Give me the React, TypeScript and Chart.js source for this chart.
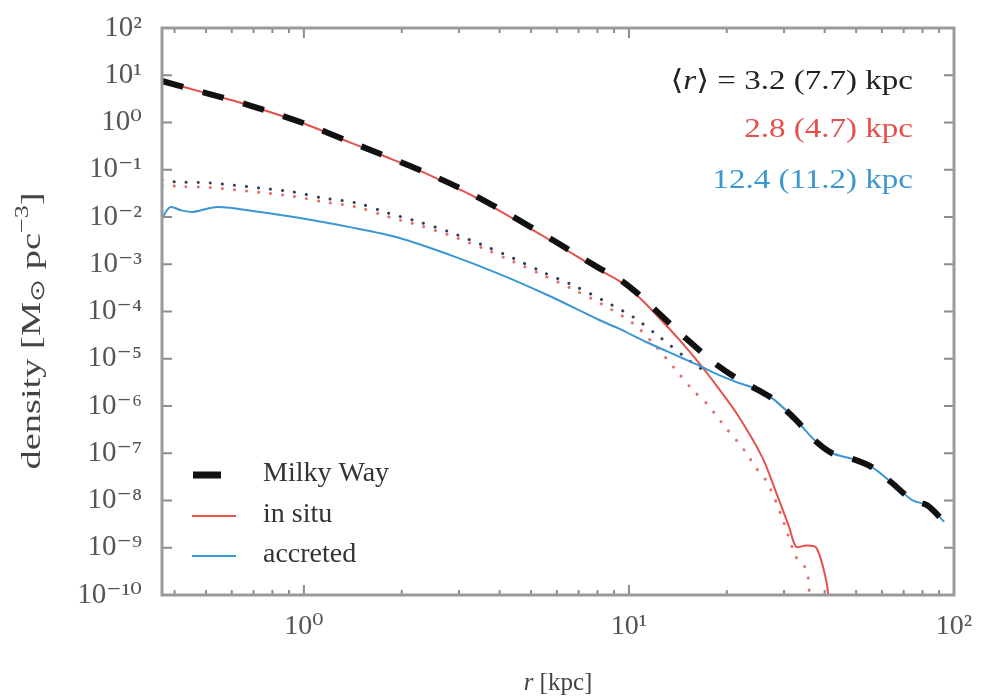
import React, { useEffect, useRef } from "react";
import { Chart, registerables } from "chart.js";

Chart.register(...registerables);

// ---- data (r in kpc, density in Msun pc^-3) ----
const rMilkyWay = [0.366, 0.5, 0.683, 1.0, 1.36, 1.75, 2.39, 3.24, 4.36, 5.9, 8.0, 9.35, 10.8, 12.4, 14.3, 16.5, 18.05, 21.4, 24.6, 28, 32.7, 37.2, 42.2, 48.7, 55.9, 64.5, 74.3, 82.7, 93.3];
const densityMilkyWay = [7.55, 4.2, 2.28, 0.96, 0.41, 0.205, 0.0853, 0.0322, 0.0105, 3.1e-3, 8.7e-4, 4.8e-4, 2.2e-4, 9.0e-5, 3.6e-5, 1.5e-5, 8.75e-6, 3.9e-6, 2.3e-6, 1.35e-6, 5.0e-7, 1.9e-7, 1.0e-7, 7.6e-8, 5.1e-8, 2.35e-8, 1.02e-8, 7.9e-9, 3.55e-9];

const rInSitu = [0.366, 0.5, 0.683, 1.0, 1.36, 1.75, 2.39, 3.24, 4.36, 5.9, 8.0, 9.35, 10.8, 12.4, 14.3, 16.5, 18.05, 21.4, 25.7, 28.4, 31.1, 32.7, 35.0, 37.7, 40.4, 41.5];
const densityInSitu = [7.53, 4.18, 2.27, 0.95, 0.40, 0.2, 0.082, 0.030, 9.6e-3, 2.85e-3, 8.0e-4, 4.4e-4, 1.93e-4, 7.3e-5, 2.5e-5, 7.8e-6, 3.55e-6, 7.1e-7, 8.3e-8, 1.45e-8, 2.75e-9, 1.05e-9, 1.12e-9, 1.0e-9, 2.1e-10, 5e-11];

const rAccreted = [0.366, 0.388, 0.42, 0.456, 0.541, 0.733, 0.972, 1.385, 1.97, 2.81, 4.0, 5.7, 8.1, 9.35, 11.3, 14.3, 16.5, 18.05, 21.4, 24.6, 28, 32.7, 37.2, 42.2, 48.7, 55.9, 64.5, 74.3, 82.7, 93.3];
const densityAccreted = [9.5e-3, 1.62e-2, 1.38e-2, 1.28e-2, 1.63e-2, 1.28e-2, 9.5e-3, 6.1e-3, 3.6e-3, 1.58e-3, 6.2e-4, 2.13e-4, 6.6e-5, 4.3e-5, 2.26e-5, 1.1e-5, 7.1e-6, 5.2e-6, 3.2e-6, 2.3e-6, 1.35e-6, 5.0e-7, 1.9e-7, 1.0e-7, 7.6e-8, 5.1e-8, 2.35e-8, 1.02e-8, 7.9e-9, 3.55e-9];

const rMilkyWayDotted = [0.366, 0.407, 0.514, 0.733, 0.925, 1.144, 1.455, 1.81, 2.27, 2.81, 3.55, 4.39, 5.42, 6.7, 8.29, 10.3, 12.5, 15.3, 17.7];
const densityMilkyWayDotted = [6.07e-2, 5.5e-2, 5.25e-2, 4.1e-2, 3.4e-2, 2.52e-2, 1.98e-2, 1.22e-2, 7.8e-3, 4.8e-3, 2.55e-3, 1.36e-3, 6.85e-4, 3.64e-4, 1.75e-4, 7.65e-5, 2.8e-5, 9.3e-6, 4.6e-6];

const rInSituDotted = [0.366, 0.42, 0.514, 0.733, 0.925, 1.144, 1.455, 1.81, 2.27, 2.81, 3.55, 4.39, 5.42, 6.7, 8.29, 10.3, 12.0, 13.8, 15.7, 17.3, 18.5, 19.9, 21.6, 23.0, 24.6, 26.6, 29.4, 32.7, 35.2, 36.0];
const densityInSituDotted = [4.8e-2, 4.4e-2, 4.2e-2, 3.3e-2, 2.75e-2, 2.1e-2, 1.62e-2, 1.02e-2, 6.6e-3, 4.1e-3, 2.2e-3, 1.15e-3, 5.9e-4, 3.0e-4, 1.41e-4, 5.6e-5, 1.95e-5, 6.3e-6, 2.2e-6, 1.15e-6, 6.5e-7, 3.4e-7, 1.74e-7, 1.0e-7, 4.9e-8, 2.45e-8, 4.9e-9, 6.3e-10, 3.4e-10, 8e-11];

const yTickValues = [1e2, 1e1, 1e0, 1e-1, 1e-2, 1e-3, 1e-4, 1e-5, 1e-6, 1e-7, 1e-8, 1e-9, 1e-10];
const yTickLabels = ["10²", "10¹", "10⁰", "10⁻¹", "10⁻²", "10⁻³", "10⁻⁴", "10⁻⁵", "10⁻⁶", "10⁻⁷", "10⁻⁸", "10⁻⁹", "10⁻¹⁰"];
const xTickValues = [1, 10, 100];
const xTickLabels = ["10⁰", "10¹", "10²"];
const xMinorTicks = [0.4, 0.5, 0.6, 0.7, 0.8, 0.9, 2, 3, 4, 5, 6, 7, 8, 9, 20, 30, 40, 50, 60, 70, 80, 90];

const legendItems = ["Milky Way", "in situ", "accreted"];
const meanRadiusTexts = ["3.2 (7.7) kpc", "2.8 (4.7) kpc", "12.4 (11.2) kpc"];

const RED = "#e5504c";
const BLUE = "#3b97d2";
const FONT = "'Liberation Serif', 'DejaVu Serif', serif";

const pts = (xs: number[], ys: number[]) => xs.map((x, i) => ({ x, y: ys[i] }));
const findLabel = (v: number, vals: number[], labels: string[]) => {
  const i = vals.findIndex((t) => Math.abs(Math.log10(t) - Math.log10(v)) < 1e-6);
  return i >= 0 ? labels[i] : "";
};

type Piece = { t: string; f: string; dy?: number };
const measure = (ctx: CanvasRenderingContext2D, ps: Piece[]) =>
  ps.reduce((w, p) => { ctx.font = p.f; return w + ctx.measureText(p.t).width; }, 0);
const drawPieces = (ctx: CanvasRenderingContext2D, ps: Piece[], start: number) => {
  let x = start;
  ps.forEach((p) => { ctx.font = p.f; ctx.fillText(p.t, x, p.dy || 0); x += ctx.measureText(p.t).width; });
};

const decorPlugin = {
  id: "decor",
  afterDatasetsDraw(chart: any) {
    const { ctx, chartArea: a, scales } = chart;
    const xs = scales.x, ys = scales.y;
    ctx.save();
    ctx.strokeStyle = "#8c8c8c";
    ctx.lineWidth = 2;
    ctx.beginPath();
    yTickValues.forEach((v) => {
      const y = ys.getPixelForValue(v);
      ctx.moveTo(a.left, y); ctx.lineTo(a.left + 10, y);
      ctx.moveTo(a.right, y); ctx.lineTo(a.right - 10, y);
    });
    xTickValues.forEach((v) => {
      const x = xs.getPixelForValue(v);
      ctx.moveTo(x, a.bottom); ctx.lineTo(x, a.bottom - 10);
      ctx.moveTo(x, a.top); ctx.lineTo(x, a.top + 10);
    });
    xMinorTicks.forEach((v) => {
      const x = xs.getPixelForValue(v);
      ctx.moveTo(x, a.bottom); ctx.lineTo(x, a.bottom - 5);
      ctx.moveTo(x, a.top); ctx.lineTo(x, a.top + 5);
    });
    ctx.stroke();
    ctx.strokeStyle = "#9a9a9a";
    ctx.lineWidth = 3;
    ctx.strokeRect(a.left, a.top, a.right - a.left, a.bottom - a.top);
    ctx.restore();
  },
  afterDraw(chart: any) {
    const { ctx, chartArea: a } = chart;
    ctx.save();
    ctx.textBaseline = "middle";
    ctx.textAlign = "left";

    // legend
    const lx0 = a.left + 31, rows = [475, 516, 556];
    ctx.lineCap = "butt";
    ctx.strokeStyle = "#111"; ctx.lineWidth = 7;
    ctx.beginPath(); ctx.moveTo(lx0, rows[0]); ctx.lineTo(lx0 + 28, rows[0]); ctx.stroke();
    ctx.strokeStyle = RED; ctx.lineWidth = 2;
    ctx.beginPath(); ctx.moveTo(lx0 - 1, rows[1]); ctx.lineTo(lx0 + 43, rows[1]); ctx.stroke();
    ctx.strokeStyle = BLUE; ctx.lineWidth = 2;
    ctx.beginPath(); ctx.moveTo(lx0 - 1, rows[2]); ctx.lineTo(lx0 + 43, rows[2]); ctx.stroke();
    ctx.fillStyle = "#333";
    ctx.font = `28px ${FONT}`;
    legendItems.forEach((t, i) => ctx.fillText(t, a.left + 101, rows[i] - 1));

    // mean radius annotations (right aligned, slightly widened)
    const rx = 913, sx = 1.18;
    const normal = `28px ${FONT}`, ital = `italic 28px ${FONT}`;
    const lines: { ps: Piece[]; color: string; y: number }[] = [
      { ps: [{ t: "⟨", f: normal }, { t: "r", f: ital }, { t: "⟩ = " + meanRadiusTexts[0], f: normal }], color: "#222", y: 82 },
      { ps: [{ t: meanRadiusTexts[1], f: normal }], color: RED, y: 130 },
      { ps: [{ t: meanRadiusTexts[2], f: normal }], color: BLUE, y: 181 },
    ];
    lines.forEach((l) => {
      const w = measure(ctx, l.ps);
      ctx.save();
      ctx.translate(rx, l.y);
      ctx.scale(sx, 1);
      ctx.fillStyle = l.color;
      drawPieces(ctx, l.ps, -w);
      ctx.restore();
    });

    // x axis title
    ctx.fillStyle = "#444";
    const xt: Piece[] = [{ t: "r", f: `italic 25px ${FONT}` }, { t: " [kpc]", f: `25px ${FONT}` }];
    const wx = measure(ctx, xt);
    ctx.save();
    ctx.translate((a.left + a.right) / 2, 683);
    drawPieces(ctx, xt, -wx / 2);
    ctx.restore();

    // y axis title (rotated)
    const yt: Piece[] = [
      { t: "density [M", f: `28px ${FONT}` },
      { t: "⊙", f: `20px 'DejaVu Sans', sans-serif`, dy: 6 },
      { t: " pc", f: `28px ${FONT}` },
      { t: "−3", f: `19px ${FONT}`, dy: -10 },
      { t: "]", f: `28px ${FONT}` },
    ];
    const wy = measure(ctx, yt);
    ctx.save();
    ctx.translate(33, 331);
    ctx.rotate(-Math.PI / 2);
    ctx.scale(277 / wy, 1);
    drawPieces(ctx, yt, -wy / 2);
    ctx.restore();
    ctx.restore();
  },
};

export default function App() {
  const ref = useRef<HTMLCanvasElement | null>(null);
  useEffect(() => {
    if (!ref.current) return;
    const chart = new Chart(ref.current, {
      type: "line",
      data: {
        datasets: [
          {
            label: "Milky Way",
            data: pts(rMilkyWay, densityMilkyWay),
            borderColor: "#111",
            borderWidth: 6,
            borderDash: [22, 20],
            borderCapStyle: "butt",
            pointRadius: 0,
            tension: 0.3,
            fill: false,
          },
          {
            label: "accreted",
            data: pts(rAccreted, densityAccreted),
            borderColor: BLUE,
            borderWidth: 2,
            pointRadius: 0,
            tension: 0.3,
            fill: false,
          },
          {
            label: "in situ",
            data: pts(rInSitu, densityInSitu),
            borderColor: RED,
            borderWidth: 2,
            pointRadius: 0,
            tension: 0.3,
            fill: false,
          },
          {
            label: "Milky Way (dotted)",
            data: pts(rMilkyWayDotted, densityMilkyWayDotted),
            borderColor: "#34405a",
            borderWidth: 3,
            borderDash: [0.1, 12],
            borderCapStyle: "round",
            pointRadius: 0,
            tension: 0.3,
            fill: false,
          },
          {
            label: "in situ (dotted)",
            data: pts(rInSituDotted, densityInSituDotted),
            borderColor: "#e6706e",
            borderWidth: 3,
            borderDash: [0.1, 12],
            borderCapStyle: "round",
            pointRadius: 0,
            tension: 0.3,
            fill: false,
          },
        ],
      },
      options: {
        animation: false,
        responsive: false,
        devicePixelRatio: 1,
        layout: { padding: { left: 0, top: 28, right: 36, bottom: 0 } },
        plugins: { legend: { display: false }, tooltip: { enabled: false } },
        scales: {
          x: {
            type: "logarithmic",
            min: 0.366,
            max: 100,
            afterBuildTicks: (s: any) => { s.ticks = xTickValues.map((v) => ({ value: v, major: true })); },
            afterFit: (s: any) => { s.height = 102; s.paddingLeft = 0; s.paddingRight = 0; },
            grid: { display: false, drawTicks: false },
            border: { display: false },
            ticks: {
              autoSkip: false,
              maxRotation: 0,
              padding: 15,
              color: "#555",
              font: { family: FONT, size: 28 },
              callback: (v: any) => findLabel(Number(v), xTickValues, xTickLabels),
            },
          },
          y: {
            type: "logarithmic",
            min: 1e-10,
            max: 1e2,
            afterBuildTicks: (s: any) => { s.ticks = yTickValues.slice().reverse().map((v) => ({ value: v, major: true })); },
            afterFit: (s: any) => { s.width = 162; s.paddingTop = 0; s.paddingBottom = 0; },
            grid: { display: false, drawTicks: false },
            border: { display: false },
            ticks: {
              autoSkip: false,
              padding: 20,
              color: "#555",
              font: { family: FONT, size: 29 },
              callback: (v: any) => findLabel(Number(v), yTickValues, yTickLabels),
            },
          },
        },
      } as any,
      plugins: [decorPlugin],
    });
    return () => chart.destroy();
  }, []);
  return (
    <div style={{ position: "fixed", left: 0, top: 0, width: 990, height: 697, background: "#fff" }}>
      <canvas ref={ref} width={990} height={697} style={{ width: 990, height: 697, display: "block" }} />
    </div>
  );
}
